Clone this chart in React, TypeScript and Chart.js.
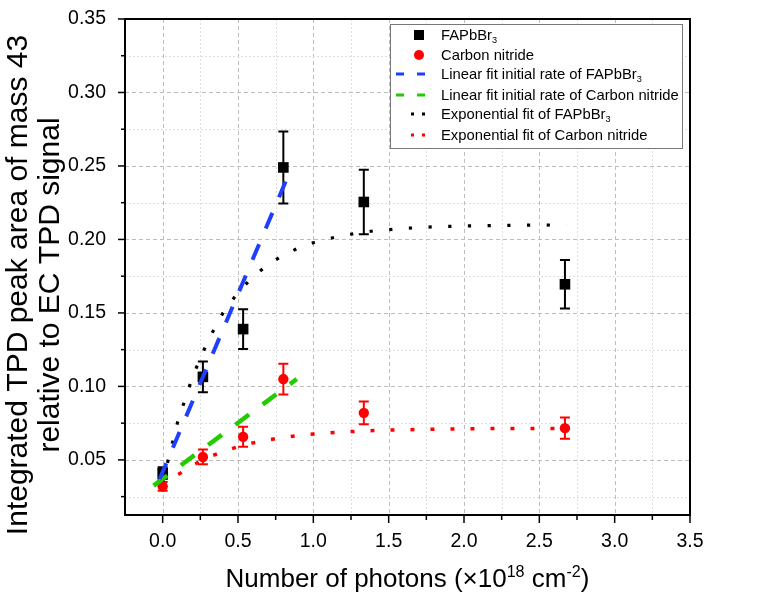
import React, { useEffect, useRef } from 'react';
import { Chart, registerables } from 'chart.js';
Chart.register(...registerables);

// ---------- data ----------
const fapX = [0, 0.267, 0.534, 0.801, 1.335, 2.67];
const fapY = [0.041, 0.1065, 0.139, 0.249, 0.2255, 0.1695];
const fapErr = [0.004, 0.0105, 0.0135, 0.0245, 0.022, 0.0165];

const cnX = [0, 0.267, 0.534, 0.801, 1.335, 2.67];
const cnY = [0.032, 0.052, 0.0657, 0.105, 0.082, 0.0716];
const cnErr = [0.003, 0.005, 0.0068, 0.0105, 0.0078, 0.0072];

const linFapX = [-0.02, 0.86];
const linFapY = [0.037, 0.25];
const linCnX = [-0.06, 0.89];
const linCnY = [0.0325, 0.105];

const expX = [0, 0.1, 0.2, 0.3, 0.4, 0.5, 0.6, 0.7, 0.8, 0.9, 1.0, 1.2, 1.4, 1.6, 1.8, 2.0, 2.2, 2.4, 2.68];
const expFapY = [0.035, 0.076, 0.107, 0.131, 0.150, 0.1639, 0.1747, 0.1829, 0.1893, 0.1941, 0.1978, 0.2029, 0.2058, 0.2075, 0.2086, 0.2092, 0.2095, 0.2097, 0.2099];
const expCnY = [0.0315, 0.0398, 0.0464, 0.0516, 0.0557, 0.059, 0.0616, 0.0636, 0.0653, 0.0666, 0.0676, 0.069, 0.07, 0.0705, 0.0709, 0.0711, 0.0713, 0.0713, 0.0714];

const xMin = -0.25, xMax = 3.5, xStep = 0.5, xMinor = 0.25;
const yMin = 0.0125, yMax = 0.35, yStep = 0.05, yMinor = 0.025;

const FONT = "'Liberation Sans', Arial, Helvetica, sans-serif";

type Part = { t: string; mode?: 'sup' | 'sub' };

const legendItems: { kind: string; color: string; parts: Part[] }[] = [
  { kind: 'square', color: '#000000', parts: [{ t: 'FAPbBr' }, { t: '3', mode: 'sub' }] },
  { kind: 'circle', color: '#ff0000', parts: [{ t: 'Carbon nitride' }] },
  { kind: 'dash', color: '#1f3fff', parts: [{ t: 'Linear fit initial rate of FAPbBr' }, { t: '3', mode: 'sub' }] },
  { kind: 'dash', color: '#22cc00', parts: [{ t: 'Linear fit initial rate of Carbon nitride' }] },
  { kind: 'dot', color: '#000000', parts: [{ t: 'Exponential fit of FAPbBr' }, { t: '3', mode: 'sub' }] },
  { kind: 'dot', color: '#ff0000', parts: [{ t: 'Exponential fit of Carbon nitride' }] },
];

const xTitle: Part[] = [{ t: 'Number of photons (\u00d710' }, { t: '18', mode: 'sup' }, { t: ' cm' }, { t: '-2', mode: 'sup' }, { t: ')' }];
const yTitle1 = 'Integrated TPD peak area of mass 43';
const yTitle2 = 'relative to EC TPD signal';

function richWidth(ctx: CanvasRenderingContext2D, parts: Part[], size: number) {
  let w = 0;
  for (const p of parts) {
    const s = p.mode ? size * 0.62 : size;
    ctx.font = `${s}px ${FONT}`;
    w += ctx.measureText(p.t).width;
  }
  return w;
}
function drawRich(ctx: CanvasRenderingContext2D, parts: Part[], x: number, y: number, size: number, align: 'left' | 'center') {
  const w = richWidth(ctx, parts, size);
  let cx = align === 'center' ? x - w / 2 : x;
  ctx.textAlign = 'left';
  ctx.textBaseline = 'alphabetic';
  for (const p of parts) {
    const s = p.mode ? size * 0.62 : size;
    const dy = p.mode === 'sup' ? -size * 0.38 : p.mode === 'sub' ? size * 0.22 : 0;
    ctx.font = `${s}px ${FONT}`;
    ctx.fillText(p.t, cx, y + dy);
    cx += ctx.measureText(p.t).width;
  }
}

const errData = [
  { xs: fapX, ys: fapY, es: fapErr, color: '#000000' },
  { xs: cnX, ys: cnY, es: cnErr, color: '#ff0000' },
];

const customPlugin = {
  id: 'custom',
  beforeDatasetsDraw(chart: any) {
    const { ctx, chartArea: a, scales } = chart;
    const x = scales.x, y = scales.y;
    ctx.save();
    const vline = (v: number, major: boolean) => {
      const px = Math.round(x.getPixelForValue(v)) + 0.5;
      ctx.strokeStyle = major ? '#bdbdbd' : '#dedede';
      ctx.setLineDash(major ? [4, 3] : [2, 2]);
      ctx.lineWidth = 1;
      ctx.beginPath(); ctx.moveTo(px, a.top); ctx.lineTo(px, a.bottom); ctx.stroke();
    };
    const hline = (v: number, major: boolean) => {
      const py = Math.round(y.getPixelForValue(v)) + 0.5;
      ctx.strokeStyle = major ? '#bdbdbd' : '#dedede';
      ctx.setLineDash(major ? [4, 3] : [2, 2]);
      ctx.lineWidth = 1;
      ctx.beginPath(); ctx.moveTo(a.left, py); ctx.lineTo(a.right, py); ctx.stroke();
    };
    for (let i = 1; i < Math.round((xMax - xMin) / xMinor); i++) {
      const v = xMin + i * xMinor;
      const major = Math.abs(v / xStep - Math.round(v / xStep)) < 1e-6;
      vline(v, major);
    }
    for (let v = yMinor; v < yMax - 1e-6; v += yMinor) {
      const major = Math.abs(v / yStep - Math.round(v / yStep)) < 1e-6;
      if (v > yMin) hline(v, major);
    }
    ctx.setLineDash([]);
    for (const e of errData) {
      ctx.strokeStyle = e.color;
      ctx.lineWidth = 2;
      for (let i = 0; i < e.xs.length; i++) {
        const px = x.getPixelForValue(e.xs[i]);
        const top = y.getPixelForValue(e.ys[i] + e.es[i]);
        const bot = y.getPixelForValue(e.ys[i] - e.es[i]);
        ctx.beginPath();
        ctx.moveTo(px, top); ctx.lineTo(px, bot);
        ctx.moveTo(px - 5, top); ctx.lineTo(px + 5, top);
        ctx.moveTo(px - 5, bot); ctx.lineTo(px + 5, bot);
        ctx.stroke();
      }
    }
    ctx.restore();
  },
  afterDraw(chart: any) {
    const { ctx, chartArea: a, scales } = chart;
    const x = scales.x, y = scales.y;
    ctx.save();
    ctx.strokeStyle = '#000';
    ctx.lineWidth = 2;
    ctx.strokeRect(a.left, a.top, a.right - a.left, a.bottom - a.top);
    ctx.lineWidth = 1.5;
    for (let i = 1; i < Math.round((xMax - xMin) / xMinor); i++) {
      const v = xMin + i * xMinor;
      const major = Math.abs(v / xStep - Math.round(v / xStep)) < 1e-6;
      const px = x.getPixelForValue(v);
      ctx.beginPath(); ctx.moveTo(px, a.bottom); ctx.lineTo(px, a.bottom + (major ? 8 : 5)); ctx.stroke();
    }
    {
      const px = x.getPixelForValue(xMax);
      ctx.beginPath(); ctx.moveTo(px, a.bottom); ctx.lineTo(px, a.bottom + 8); ctx.stroke();
    }
    for (let v = yMinor; v <= yMax + 1e-6; v += yMinor) {
      if (v < yMin) continue;
      const major = Math.abs(v / yStep - Math.round(v / yStep)) < 1e-6;
      const py = y.getPixelForValue(v);
      ctx.beginPath(); ctx.moveTo(a.left, py); ctx.lineTo(a.left - (major ? 7 : 4), py); ctx.stroke();
    }
    ctx.fillStyle = '#000';
    drawRich(ctx, xTitle, (a.left + a.right) / 2, 587, 26, 'center');
    ctx.save();
    ctx.translate(0, 285);
    ctx.rotate(-Math.PI / 2);
    ctx.font = `30px ${FONT}`;
    ctx.textAlign = 'center';
    ctx.textBaseline = 'alphabetic';
    ctx.fillText(yTitle1, 0, 27);
    ctx.fillText(yTitle2, 0, 59);
    ctx.restore();
    // legend
    const bx = 390, by = 24, bw = 292, bh = 124;
    ctx.fillStyle = '#fff';
    ctx.fillRect(bx, by, bw, bh);
    ctx.strokeStyle = '#777';
    ctx.lineWidth = 1;
    ctx.strokeRect(bx + 0.5, by + 0.5, bw, bh);
    const rows = [35, 55, 74, 95, 114, 135];
    legendItems.forEach((it, i) => {
      const cy = rows[i];
      ctx.fillStyle = it.color;
      if (it.kind === 'square') {
        ctx.fillRect(414, cy - 5, 10, 10);
      } else if (it.kind === 'circle') {
        ctx.beginPath(); ctx.arc(419, cy, 5, 0, Math.PI * 2); ctx.fill();
      } else if (it.kind === 'dash') {
        ctx.fillRect(396, cy - 1.5, 8, 3);
        ctx.fillRect(417, cy - 1.5, 8, 3);
      } else {
        ctx.fillRect(411, cy - 1.5, 3, 3);
        ctx.fillRect(422, cy - 1.5, 3, 3);
      }
      ctx.fillStyle = '#000';
      drawRich(ctx, it.parts, 441, cy + 5, 14.8, 'left');
    });
    ctx.restore();
  },
};

export default function App() {
  const ref = useRef<HTMLCanvasElement>(null);
  useEffect(() => {
    if (!ref.current) return;
    const pts = (xs: number[], ys: number[]) => xs.map((v, i) => ({ x: v, y: ys[i] }));
    const chart = new Chart(ref.current, {
      type: 'scatter',
      data: {
        datasets: [
          { label: 'FAPbBr3', data: pts(fapX, fapY), pointStyle: 'rect', pointRadius: 7.5, backgroundColor: '#000', borderColor: '#000', borderWidth: 0, order: 1 } as any,
          { label: 'Carbon nitride', data: pts(cnX, cnY), pointStyle: 'circle', pointRadius: 5.2, backgroundColor: '#ff0000', borderColor: '#ff0000', borderWidth: 0, order: 2 } as any,
          { label: 'Linear fit initial rate of FAPbBr3', type: 'line', data: pts(linFapX, linFapY), showLine: true, borderColor: '#1f3fff', borderWidth: 4, borderDash: [17, 17], pointRadius: 0, fill: false, order: 0 } as any,
          { label: 'Linear fit initial rate of Carbon nitride', type: 'line', data: pts(linCnX, linCnY), showLine: true, borderColor: '#22cc00', borderWidth: 4.5, borderDash: [17, 17], pointRadius: 0, fill: false, order: 0 } as any,
          { label: 'Exponential fit of FAPbBr3', type: 'line', data: pts(expX, expFapY), showLine: true, borderColor: '#000', borderWidth: 3.2, borderDash: [3.2, 16.5], pointRadius: 0, fill: false, tension: 0, order: 3 } as any,
          { label: 'Exponential fit of Carbon nitride', type: 'line', data: pts(expX, expCnY), showLine: true, borderColor: '#ff0000', borderWidth: 3.5, borderDash: [4, 16], pointRadius: 0, fill: false, tension: 0, order: 3 } as any,
        ],
      },
      options: {
        responsive: false,
        animation: false,
        layout: { padding: { top: 19, right: 86, left: 0, bottom: 0 } },
        plugins: { legend: { display: false }, tooltip: { enabled: false }, title: { display: false } },
        scales: {
          x: {
            type: 'linear', min: xMin, max: xMax,
            grid: { display: false, drawTicks: false },
            border: { display: false },
            ticks: { stepSize: xStep, includeBounds: false, autoSkip: false, maxRotation: 0, padding: 15, color: '#000', font: { family: FONT, size: 19.5 }, callback: (v: any) => Number(v).toFixed(1) },
            afterFit: (s: any) => { s.height = 87; s.paddingLeft = 0; s.paddingRight = 0; },
          },
          y: {
            type: 'linear', min: yMin, max: yMax,
            grid: { display: false, drawTicks: false },
            border: { display: false },
            ticks: { stepSize: yStep, includeBounds: false, autoSkip: false, padding: 19, color: '#000', font: { family: FONT, size: 19.5 }, callback: (v: any) => Number(v).toFixed(2) },
            afterFit: (s: any) => { s.width = 125; s.paddingTop = 0; s.paddingBottom = 0; },
          },
        },
      } as any,
      plugins: [customPlugin],
    });
    return () => chart.destroy();
  }, []);
  return (
    <div style={{ position: 'fixed', left: 0, top: 0, width: 776, height: 602, background: '#fff' }}>
      <canvas ref={ref} width={776} height={602} style={{ width: 776, height: 602, display: 'block' }} />
    </div>
  );
}
